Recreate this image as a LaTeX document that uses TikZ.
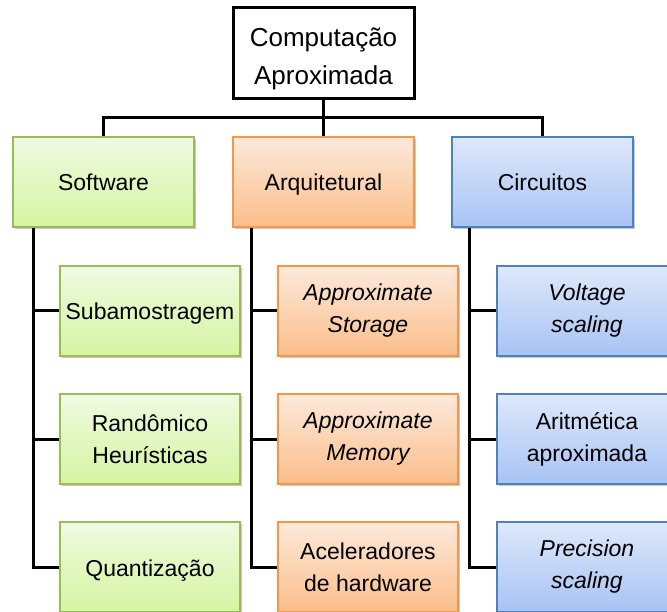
\documentclass[tikz,border=0pt]{standalone}
\usepackage{fontspec}
\setmainfont{Liberation Sans}
\usetikzlibrary{shadows}

\definecolor{greentop}{HTML}{EFFAE0}
\definecolor{greenbot}{HTML}{D5F5A2}
\definecolor{greenedge}{HTML}{9BBB59}
\definecolor{orangetop}{HTML}{FDE9DB}
\definecolor{orangebot}{HTML}{FBBE8A}
\definecolor{orangeedge}{HTML}{F79646}
\definecolor{bluetop}{HTML}{DEE8FA}
\definecolor{bluebot}{HTML}{A7C3F5}
\definecolor{blueedge}{HTML}{4F81BD}

\tikzset{
  box/.style={rectangle, minimum width=181pt, minimum height=90pt, inner sep=0pt,
    align=center, line width=1.3pt,
    font=\fontsize{23}{32}\selectfont,
    drop shadow={shadow xshift=1.5pt, shadow yshift=-2pt, opacity=0.35, fill=black!60}},
  oneline/.style={text height=19pt, text depth=1pt},
  rootbox/.style={rectangle, draw=black, fill=white, line width=3pt,
    minimum width=181pt, minimum height=91pt, inner sep=0pt, align=center,
    font=\fontsize{26}{38}\selectfont},
  greenbox/.style={box, draw=greenedge, top color=greentop, bottom color=greenbot},
  orangebox/.style={box, draw=orangeedge, top color=orangetop, bottom color=orangebot},
  bluebox/.style={box, draw=blueedge, top color=bluetop, bottom color=bluebot},
  conn/.style={draw=black, line width=3pt},
}

\begin{document}
\begin{tikzpicture}[x=1pt, y=-1pt]
\useasboundingbox (0,0) rectangle (667,612);
\clip (0,0) rectangle (667,612);
\fill[white] (0,0) rectangle (667,612);

% root
\node[rootbox] (root) at (323.5,53.5) {\rule{0pt}{30pt}Computação\\Aproximada};

% first level
\node[greenbox, oneline]  (sw) at (103.5,182) {Software};
\node[orangebox, oneline] (ar) at (323.5,182) {Arquitetural};
\node[bluebox, oneline]   (ci) at (542.5,182) {Circuitos};

% second level: software
\node[greenbox, minimum width=180pt, oneline] (sw1) at (150,311) {Subamostragem};
\node[greenbox, minimum width=180pt] (sw2) at (150,439) {Randômico\\Heurísticas};
\node[greenbox, minimum width=180pt, oneline] (sw3) at (150,567) {Quantização};

% second level: architecture
\node[orangebox, minimum width=180pt] (ar1) at (368,311) {\itshape Approximate\\\itshape Storage};
\node[orangebox, minimum width=180pt] (ar2) at (368,439) {\itshape Approximate\\\itshape Memory};
\node[orangebox, minimum width=180pt] (ar3) at (368,567) {Aceleradores\\de hardware};

% second level: circuits
\node[bluebox, minimum width=180pt] (ci1) at (587,311) {\itshape Voltage\\\itshape scaling};
\node[bluebox, minimum width=180pt] (ci2) at (587,439) {Aritmética\\aproximada};
\node[bluebox, minimum width=180pt] (ci3) at (587,567) {\itshape Precision\\\itshape scaling};

% bus below the root and the three branch spines
\coordinate (bar) at (0,118);
\coordinate (swspine) at (33,0);
\coordinate (arspine) at (251,0);
\coordinate (cispine) at (469,0);

\draw[conn] (root.south) -- (ar.north);
\draw[conn] (sw.north) -- (sw.north |- bar) -- (ci.north |- bar) -- (ci.north);

\draw[conn] (sw.south -| swspine) |- (sw3.west);
\draw[conn] (sw1.west) -- (sw1.west -| swspine);
\draw[conn] (sw2.west) -- (sw2.west -| swspine);

\draw[conn] (ar.south -| arspine) |- (ar3.west);
\draw[conn] (ar1.west) -- (ar1.west -| arspine);
\draw[conn] (ar2.west) -- (ar2.west -| arspine);

\draw[conn] (ci.south -| cispine) |- (ci3.west);
\draw[conn] (ci1.west) -- (ci1.west -| cispine);
\draw[conn] (ci2.west) -- (ci2.west -| cispine);
\end{tikzpicture}
\end{document}
